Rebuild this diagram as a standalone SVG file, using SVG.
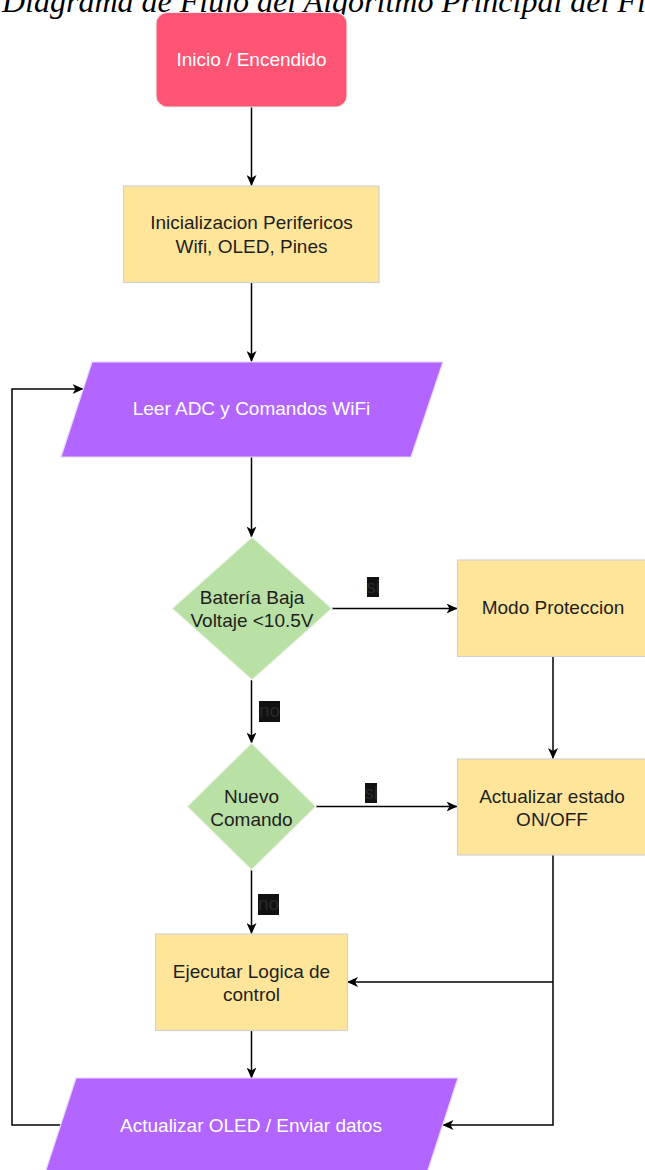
<svg xmlns="http://www.w3.org/2000/svg" width="645" height="1170" viewBox="0 0 645 1170">
  <style>
    .lbl { font-family: "Liberation Sans", Arial, sans-serif; font-size: 19px; text-anchor: middle; }
    .dark { fill: #1E1E1E; }
    .light { fill: #FFFFFF; }
    .title { font-family: "Liberation Serif", "Times New Roman", serif; font-style: italic; font-size: 32px; fill: #000000; }
    .proc { fill: #FFE599; stroke: #D2D2D2; stroke-width: 1.2; }
    .io { fill: #B266FF; stroke: #E6DAF5; stroke-width: 1.2; }
    .dec { fill: #B9E0A5; stroke: #F2F7EE; stroke-width: 1.2; }
    .start { fill: #FF5575; stroke: #E8E8E8; stroke-width: 1.2; }
    .edge { fill: none; stroke: #000000; stroke-width: 1.5; }
    .tag { fill: #111111; }
    .tagtxt { font-family: "Liberation Sans", Arial, sans-serif; font-size: 19px; text-anchor: middle; fill: #2a2a2a; }
  </style>
  <defs>
    <marker id="arrow" viewBox="0 0 11 10" refX="10.5" refY="5" markerWidth="11" markerHeight="10" markerUnits="userSpaceOnUse" orient="auto">
      <path d="M0,0 L11,5 L0,10 L3,5 Z" fill="#000000"/>
    </marker>
  </defs>

  <rect width="645" height="1170" fill="#FFFFFF"/>

  <text class="title" x="2" y="12">Diagrama de Flujo del Algoritmo Principal del Fi</text>

  <!-- connectors -->
  <g id="connectors">
    <path class="edge" d="M251.5,107 L251.5,185.5" marker-end="url(#arrow)"/>
    <path class="edge" d="M251.5,283 L251.5,361.5" marker-end="url(#arrow)"/>
    <path class="edge" d="M251.5,457 L251.5,537" marker-end="url(#arrow)"/>
    <path class="edge" d="M332,608.5 L457,608.5" marker-end="url(#arrow)"/>
    <path class="edge" d="M251.5,680 L251.5,743" marker-end="url(#arrow)"/>
    <path class="edge" d="M316,806.5 L457,806.5" marker-end="url(#arrow)"/>
    <path class="edge" d="M251.5,870 L251.5,933.5" marker-end="url(#arrow)"/>
    <path class="edge" d="M553,657 L553,758.5" marker-end="url(#arrow)"/>
    <path class="edge" d="M553,855 L553,1125 L443,1125" marker-end="url(#arrow)"/>
    <path class="edge" d="M553,982 L347.5,982" marker-end="url(#arrow)"/>
    <path class="edge" d="M251.5,1030.5 L251.5,1078" marker-end="url(#arrow)"/>
    <path class="edge" d="M61,1125 L12,1125 L12,389 L83,389" marker-end="url(#arrow)"/>

    <!-- branch labels -->
    <rect class="tag" x="367" y="577" width="12" height="20"/>
    <text class="tagtxt" x="373" y="593">si</text>
    <rect class="tag" x="259" y="701" width="21" height="21"/>
    <text class="tagtxt" x="269.5" y="717">no</text>
    <rect class="tag" x="365" y="783" width="12" height="20"/>
    <text class="tagtxt" x="371" y="799">si</text>
    <rect class="tag" x="258" y="894" width="21" height="21"/>
    <text class="tagtxt" x="268.5" y="910">no</text>
  </g>

  <g id="inicio">
    <rect class="start" x="156" y="12.5" width="191" height="94.5" rx="11" ry="11"/>
    <text class="lbl light" x="251.5" y="65.5">Inicio / Encendido</text>
  </g>

  <g id="inicializacion">
    <rect class="proc" x="123.5" y="186" width="255.5" height="96.5"/>
    <text class="lbl dark" x="251.5" y="229">Inicializacion Perifericos</text>
    <text class="lbl dark" x="251.5" y="253">Wifi, OLED, Pines</text>
  </g>

  <g id="leer">
    <polygon class="io" points="92,362 443,362 411,457 61,457"/>
    <text class="lbl light" x="251.5" y="415">Leer ADC y Comandos WiFi</text>
  </g>

  <g id="bateria">
    <polygon class="dec" points="252,537 332,608.5 252,680 172,608.5"/>
    <text class="lbl dark" x="252" y="603.5">Batería Baja</text>
    <text class="lbl dark" x="252" y="627">Voltaje &lt;10.5V</text>
  </g>

  <g id="proteccion">
    <rect class="proc" x="457.5" y="560" width="192" height="96.5"/>
    <text class="lbl dark" x="553" y="614">Modo Proteccion</text>
  </g>

  <g id="comando">
    <polygon class="dec" points="251.5,743 316,806.5 251.5,870 187,806.5"/>
    <text class="lbl dark" x="251.5" y="803">Nuevo</text>
    <text class="lbl dark" x="251.5" y="826">Comando</text>
  </g>

  <g id="estado">
    <rect class="proc" x="457.5" y="759" width="192" height="96"/>
    <text class="lbl dark" x="552" y="803">Actualizar estado</text>
    <text class="lbl dark" x="552" y="826">ON/OFF</text>
  </g>

  <g id="logica">
    <rect class="proc" x="155.5" y="934" width="192" height="96.5"/>
    <text class="lbl dark" x="251.5" y="978">Ejecutar Logica de</text>
    <text class="lbl dark" x="251.5" y="1001">control</text>
  </g>

  <g id="salida">
    <polygon class="io" points="76,1078 458,1078 427,1173 45,1173"/>
    <text class="lbl light" x="251" y="1132">Actualizar OLED / Enviar datos</text>
  </g>
</svg>
